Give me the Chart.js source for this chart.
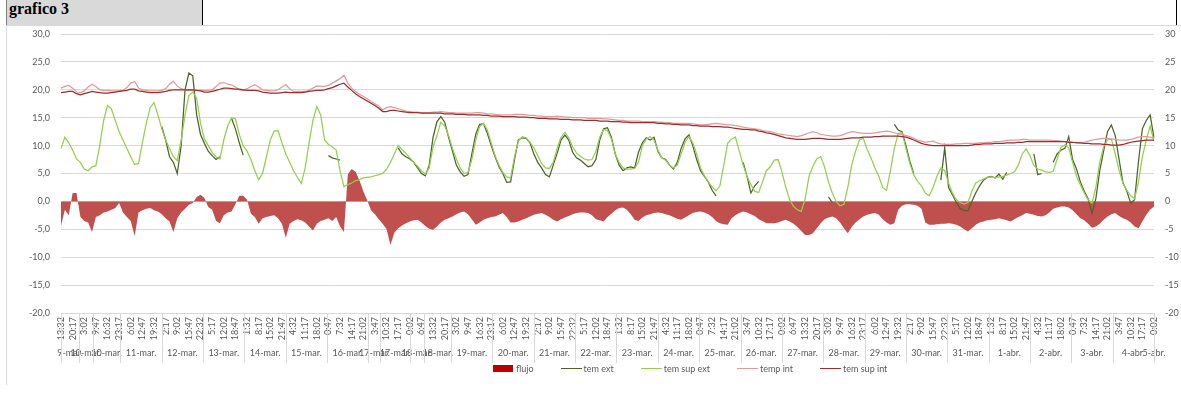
<!DOCTYPE html>
<html>
<head>
<meta charset="utf-8">
<title>grafico 3</title>
<script src="https://cdn.jsdelivr.net/npm/chart.js@4.4.1/dist/chart.umd.min.js"></script>
<style>
  html, body { margin: 0; padding: 0; background: #fff; }
  body { width: 1181px; height: 405px; position: relative; overflow: hidden; font-family: Lato, 'Liberation Sans', sans-serif; }
  #title {
    position: absolute; left: 6px; top: 0; width: 197px; height: 25px; box-sizing: border-box;
    background: #d9d9d9; border-left: 1px solid #7f7f7f; border-right: 1px solid #000;
    font: bold 16px 'Liberation Serif', 'Times New Roman', serif; line-height: 17px; padding-left: 2px;
  }
  #edge { position: absolute; left: 1176px; top: 0; width: 1px; height: 25px; background: #000; }
  #frame {
    position: absolute; left: 6px; top: 25px; width: 1175px; height: 360px; box-sizing: border-box;
    border-top: 1px solid #d9d9d9; border-left: 1px solid #d9d9d9;
  }
  #chart { position: absolute; left: 7px; top: 26px; }
  #legend { position: absolute; left: 493px; top: 363px; display: flex; align-items: center; font-size: 9px; color: #595959; white-space: nowrap; }
  #legend .item { display: flex; align-items: center; margin-right: 27px; }
  #legend .box { width: 20px; height: 7px; margin-right: 3px; }
  #legend .line { width: 21px; height: 0; margin-right: 2px; border-top: 1.5px solid; }
</style>
</head>
<body>
<div id="title">grafico 3</div>
<div id="edge"></div>
<div id="frame"></div>
<canvas id="chart" width="1174" height="359"></canvas>
<div id="legend"></div>
<script>
// readings every 2 h 15 min, first one on 9-mar 13:32
const startMinute = 13 * 60 + 32;
const stepMinutes = 135;

const flujo = [
  -4.4, -1.5, -2.5, 1.5, 1.5, -2.8, -3.5, -3.8, -5.5, -2.8,
  -2.5, -2.0, -1.8, -1.5, -1.2, -0.3, -2.0, -2.8, -3.5, -6.2,
  -2.0, -1.6, -1.3, -1.2, -1.6, -1.8, -2.3, -3.0, -3.6, -5.5,
  -3.0, -2.0, -1.3, -0.6, -0.3, 0.8, 1.2, 0.6, -1.0, -1.5,
  -3.5, -3.9, -2.5, -2.0, -1.8, -0.5, 1.0, 1.0, 0.3, -2.2,
  -2.8, -4.0, -3.0, -2.8, -2.6, -2.5, -3.0, -4.0, -6.5, -4.0,
  -3.5, -3.2, -3.4, -3.8, -4.5, -5.2, -4.0, -3.5, -3.3, -3.0,
  -3.5, -2.8, -4.5, -5.5, 4.8, 5.8, 5.3, 3.8, 1.8, 0.2,
  -1.6, -2.3, -3.2, -4.0, -5.0, -7.8, -5.6, -4.8, -4.3, -3.9,
  -3.6, -3.4, -3.3, -3.8, -4.4, -4.9, -5.1, -4.5, -3.8, -3.3,
  -3.0, -2.7, -2.3, -2.0, -1.8, -2.3, -3.2, -4.2, -3.8, -3.3,
  -3.0, -2.8, -2.7, -2.4, -2.1, -2.8, -3.8, -3.8, -3.6, -3.3,
  -3.0, -2.7, -2.4, -2.2, -2.1, -2.4, -2.8, -3.3, -3.6, -3.2,
  -2.9, -2.6, -2.3, -2.1, -2.0, -2.0, -2.1, -2.5, -3.2, -3.4,
  -3.6, -2.8, -2.2, -1.6, -1.2, -1.1, -1.5, -2.3, -3.3, -3.5,
  -2.9, -2.5, -2.3, -2.1, -2.0, -2.1, -2.3, -2.5, -2.8, -3.1,
  -3.3, -2.9, -2.5, -2.1, -1.9, -1.8, -2.0, -2.3, -2.8, -3.5,
  -3.9, -4.1, -4.2, -3.0, -2.5, -2.1, -1.8, -2.0, -2.3, -2.6,
  -3.2, -3.5, -3.9, -3.9, -3.9, -3.8, -3.5, -3.3, -3.6, -4.0,
  -4.6, -5.3, -6.0, -6.0, -5.7, -4.8, -3.9, -3.2, -2.9, -2.7,
  -3.0, -3.8, -4.8, -5.7, -4.6, -3.8, -3.2, -2.7, -2.4, -2.2,
  -2.1, -2.4, -3.2, -3.8, -4.2, -3.9, -1.5, -0.8, -0.5, -0.5,
  -0.6, -0.8, -1.3, -3.8, -4.2, -4.2, -4.1, -4.0, -4.0, -3.9,
  -4.0, -4.2, -4.5, -5.0, -5.4, -4.8, -4.2, -3.8, -3.6, -3.4,
  -3.3, -3.2, -3.0, -3.2, -3.4, -3.6, -3.2, -2.8, -2.5, -2.1,
  -2.2, -2.4, -2.6, -2.7, -2.5, -2.0, -1.3, -1.1, -0.9, -0.9,
  -1.1, -1.6, -2.3, -3.0, -3.4, -4.0, -4.7, -4.5, -4.0, -3.3,
  -2.7, -2.3, -2.1, -2.6, -3.0, -3.3, -3.8, -4.5, -4.8, -3.6,
  -2.4, -1.5, -0.9
];

// sensor outside: gaps where it did not log
const temExt = [
  null, null, null, null, null, null, null, null, null, null,
  null, null, null, null, null, null, null, null, null, null,
  null, null, null, null, null, null, 13.4, 11.0, 8.0, 7.0,
  5.0, 10.0, 20.0, 23.0, 22.5, 15.5, 12.0, 10.4, 9.0, 8.2,
  7.5, 8.0, null, null, 14.9, 13.0, 10.5, 8.3, null, null,
  null, null, null, null, null, null, null, null, null, null,
  null, null, null, null, null, null, null, null, null, 8.2,
  7.8, 7.6, 7.4, null, null, null, null, null, null, null,
  null, null, null, null, null, null, null, 9.6, 8.5, 8.0,
  7.6, 7.0, 6.0, 5.0, 4.6, 6.5, 11.5, 14.3, 15.2, 14.2,
  11.5, 9.0, 6.5, 5.3, 4.5, 4.8, 8.5, 12.0, 13.8, 13.9,
  12.2, 10.0, 8.0, 6.2, 5.0, 3.4, 3.5, 7.5, 11.0, 11.4,
  11.3, 10.5, 8.5, 7.0, 6.0, 4.8, 4.4, 6.5, 8.6, 11.0,
  11.9, 11.0, 8.8, 7.8, 7.4, 6.8, 6.2, 6.4, 7.5, 11.0,
  13.0, 13.2, 11.5, 8.5, 6.5, 5.5, 6.0, 6.2, 6.0, 8.8,
  10.5, 11.4, 11.0, 11.5, 9.0, 7.8, 7.5, 6.5, 5.8, 7.0,
  9.5, 11.2, 11.9, 10.0, 7.5, 5.5, 4.5, 3.5, 2.0, 1.0,
  null, null, null, null, null, null, 7.0, 4.5, 1.5, 2.8,
  3.6, null, null, null, null, null, null, null, null, null,
  null, null, null, null, null, null, null, null, 0.8, -0.2,
  null, null, null, null, null, null, null, null, null, null,
  null, null, null, null, null, 13.8, 12.8, 12.5, 10.0, 7.2,
  5.0, null, null, null, null, null, null, 3.8, 9.6, 2.5,
  1.2, -0.2, -1.3, -1.6, -1.7, 0.0, 1.5, 2.8, 3.8, 4.3,
  4.5, 4.2, 4.9, 4.0, 5.2, null, null, null, null, null,
  null, 8.5, 4.8, 5.0, null, null, 7.0, 8.5, 9.2, 9.5,
  11.6, 7.5, 5.8, 3.5, 1.8, 0.5, -2.1, 0.5, 5.5, 9.0,
  12.5, 13.7, 11.8, 7.5, 3.3, 1.8, -0.3, 0.3, 7.2, 13.0,
  14.5, 15.5, 11.4
];

const temSupExt = [
  9.5, 11.5, 10.5, 9.2, 7.6, 7.0, 5.8, 5.5, 6.2, 6.4,
  10.0, 14.5, 17.2, 16.6, 14.5, 12.5, 11.0, 9.5, 8.0, 6.6,
  6.8, 10.5, 14.0, 16.8, 17.7, 15.5, 13.0, 11.0, 9.5, 8.0,
  7.3, 11.0, 15.5, 19.0, 19.6, 18.5, 14.0, 11.2, 10.0, 8.8,
  8.0, 7.6, 11.0, 13.5, 15.0, 14.8, 12.0, 10.0, 9.0, 7.5,
  5.5, 3.9, 5.0, 8.0, 11.0, 12.6, 12.7, 10.5, 8.5, 7.0,
  5.5, 4.3, 3.2, 6.0, 10.5, 14.5, 17.0, 15.5, 11.0, 10.2,
  9.8, 9.2, 5.5, 2.6, 3.0, 3.3, 3.7, 3.9, 4.2, 4.3,
  4.4, 4.6, 4.8, 5.0, 5.8, 7.0, 8.5, 10.0, 9.3, 8.6,
  7.8, 7.0, 6.3, 5.5, 4.9, 6.0, 9.8, 11.8, 14.2, 13.5,
  11.8, 9.5, 7.6, 6.0, 5.0, 5.2, 7.5, 11.0, 13.4, 14.0,
  12.8, 10.5, 8.2, 6.5, 5.2, 4.4, 4.2, 8.0, 10.8, 11.6,
  11.4, 10.6, 9.6, 8.2, 6.8, 6.0, 5.9, 7.0, 9.5, 11.5,
  12.4, 11.4, 9.8, 8.7, 8.1, 7.6, 7.4, 7.5, 9.0, 11.5,
  12.9, 12.7, 11.2, 8.5, 7.0, 6.0, 5.8, 5.8, 5.9, 7.0,
  10.0, 11.2, 11.6, 11.0, 9.2, 7.8, 7.4, 6.5, 6.0, 6.5,
  8.5, 10.6, 11.6, 10.5, 8.5, 6.0, 4.6, 3.5, 2.6, 1.9,
  2.8, 6.5, 10.4, 11.2, 11.5, 9.0, 6.5, 4.5, 3.0, 1.8,
  1.6, 3.5, 5.5, 6.2, 7.4, 7.5, 5.3, 2.5, 0.3, -0.9,
  -1.5, -1.8, 0.5, 4.5, 6.3, 7.6, 8.0, 6.2, 3.5, 1.5,
  0.0, -0.8, -0.5, 2.5, 6.5, 9.0, 11.0, 11.3, 9.3, 7.8,
  6.0, 4.5, 2.5, 2.0, 5.5, 9.5, 12.2, 12.3, 9.5, 6.8,
  4.8, 3.6, 2.8, 1.5, 1.0, 2.5, 4.5, 6.0, 5.5, 3.3,
  1.5, 0.3, -0.2, -0.5, -0.2, 1.8, 3.3, 3.7, 4.0, 4.3,
  4.4, 4.2, 4.4, 4.5, 4.7, 5.0, 5.3, 6.5, 8.5, 9.4,
  8.2, 6.4, 5.8, 5.6, 5.3, 5.2, 5.4, 7.5, 9.7, 10.1,
  9.6, 7.0, 4.5, 3.0, 1.5, 0.3, -0.3, 2.5, 7.0, 9.8,
  11.0, 11.2, 8.5, 5.5, 3.2, 2.0, 1.0, 0.5, 3.5, 8.0,
  11.0, 13.5, 10.8
];

const tempInt = [
  20.3, 20.6, 20.8, 20.3, 19.6, 19.5, 19.8, 20.5, 21.0, 20.6,
  20.0, 19.9, 19.9, 19.8, 19.8, 19.8, 19.9, 20.4, 21.2, 21.5,
  20.3, 20.0, 19.9, 19.8, 19.8, 19.8, 19.9, 20.2, 21.0, 21.5,
  20.7, 20.2, 20.0, 19.9, 19.9, 19.9, 19.9, 19.9, 19.9, 20.0,
  20.6, 21.2, 21.3, 21.0, 20.9, 20.5, 20.0, 19.9, 20.2, 20.6,
  20.9, 20.5, 20.0, 19.9, 19.8, 19.8, 20.0, 20.5, 20.9, 20.2,
  19.7, 19.7, 19.7, 19.7, 19.9, 20.3, 20.7, 20.6, 20.6, 20.8,
  21.2, 21.6, 22.0, 22.6, 21.2, 20.3, 19.7, 19.2, 18.8, 18.4,
  17.9, 17.5, 17.1, 16.4, 16.8, 17.0, 16.8, 16.6, 16.4, 16.2,
  16.1, 16.0, 16.0, 15.9, 15.9, 15.9, 16.0, 16.0, 16.1, 16.0,
  15.9, 15.9, 15.8, 15.8, 15.8, 15.8, 15.8, 15.9, 15.9, 15.8,
  15.7, 15.7, 15.6, 15.5, 15.5, 15.5, 15.5, 15.6, 15.6, 15.6,
  15.5, 15.4, 15.4, 15.3, 15.3, 15.2, 15.2, 15.2, 15.3, 15.2,
  15.1, 15.1, 15.0, 15.0, 15.0, 15.0, 14.9, 14.9, 14.9, 14.9,
  14.8, 14.8, 14.7, 14.6, 14.5, 14.5, 14.4, 14.4, 14.4, 14.4,
  14.3, 14.3, 14.3, 14.3, 14.2, 14.2, 14.1, 14.1, 14.0, 14.0,
  14.0, 14.0, 14.0, 13.9, 13.8, 13.7, 13.7, 13.8, 13.9, 14.0,
  13.9, 13.8, 13.7, 13.7, 13.6, 13.5, 13.3, 13.2, 13.1, 13.0,
  12.9, 12.7, 12.6, 12.5, 12.3, 12.1, 12.0, 11.9, 11.8, 11.7,
  11.6, 11.8, 12.0, 12.3, 12.5, 12.3, 12.0, 11.9, 11.8, 11.7,
  11.7, 11.8, 12.0, 12.3, 12.5, 12.4, 12.3, 12.2, 12.2, 12.2,
  12.3, 12.4, 12.5, 12.6, 12.5, 12.3, 12.1, 12.0, 11.8, 11.6,
  11.3, 11.0, 10.8, 10.6, 10.7, 10.8, 10.5, 10.3, 10.2, 10.2,
  10.2, 10.3, 10.3, 10.4, 10.4, 10.4, 10.4, 10.5, 10.5, 10.6,
  10.6, 10.7, 10.7, 10.8, 10.9, 11.0, 11.0, 11.0, 11.1, 11.1,
  11.0, 11.0, 11.0, 11.0, 11.0, 11.0, 10.9, 10.9, 10.8, 10.7,
  10.7, 10.6, 10.6, 10.5, 10.6, 10.8, 11.0, 11.1, 11.2, 11.3,
  11.3, 11.2, 11.1, 11.0, 11.0, 11.0, 11.1, 11.3, 11.5, 11.6,
  11.6, 11.5, 11.3
];

const temSupInt = [
  19.5, 19.6, 19.7, 19.7, 19.3, 19.1, 19.3, 19.5, 19.7, 19.6,
  19.5, 19.4, 19.4, 19.5, 19.6, 19.7, 19.8, 19.9, 20.1, 20.1,
  19.8, 19.7, 19.6, 19.5, 19.5, 19.5, 19.6, 19.7, 19.9, 20.0,
  20.0, 20.0, 20.0, 20.0, 20.0, 19.9, 19.8, 19.6, 19.6, 19.7,
  19.9, 20.1, 20.3, 20.3, 20.2, 20.1, 20.1, 20.0, 19.9, 19.9,
  19.9, 19.8, 19.6, 19.5, 19.4, 19.4, 19.4, 19.5, 19.6, 19.5,
  19.5, 19.5, 19.5, 19.6, 19.7, 19.8, 19.9, 19.9, 20.0, 20.2,
  20.4, 20.7, 21.0, 21.2, 20.5, 19.9, 19.3, 18.8, 18.4, 18.0,
  17.6, 17.2, 16.7, 16.1, 16.1, 16.3, 16.3, 16.2, 16.1, 16.0,
  15.9, 15.9, 15.9, 15.8, 15.8, 15.8, 15.8, 15.8, 15.8, 15.7,
  15.7, 15.7, 15.6, 15.6, 15.6, 15.5, 15.5, 15.5, 15.5, 15.4,
  15.4, 15.3, 15.3, 15.3, 15.2, 15.2, 15.2, 15.2, 15.1, 15.1,
  15.1, 15.0, 15.0, 14.9, 14.9, 14.9, 14.8, 14.8, 14.8, 14.7,
  14.7, 14.7, 14.6, 14.6, 14.6, 14.5, 14.5, 14.5, 14.5, 14.4,
  14.4, 14.4, 14.3, 14.3, 14.3, 14.2, 14.2, 14.1, 14.1, 14.1,
  14.1, 14.1, 14.1, 14.1, 14.0, 14.0, 13.9, 13.9, 13.8, 13.8,
  13.7, 13.7, 13.7, 13.6, 13.6, 13.5, 13.5, 13.5, 13.4, 13.4,
  13.4, 13.3, 13.3, 13.2, 13.1, 13.0, 12.9, 12.9, 12.8, 12.8,
  12.6, 12.5, 12.3, 12.2, 12.0, 11.8, 11.6, 11.4, 11.3, 11.2,
  11.1, 11.1, 11.1, 11.2, 11.3, 11.3, 11.3, 11.2, 11.1, 11.1,
  11.1, 11.1, 11.2, 11.3, 11.4, 11.4, 11.4, 11.5, 11.5, 11.5,
  11.6, 11.6, 11.7, 11.7, 11.7, 11.7, 11.7, 11.6, 11.5, 11.3,
  11.0, 10.7, 10.4, 10.2, 10.1, 10.0, 10.0, 10.0, 10.0, 10.0,
  10.0, 10.0, 10.0, 10.0, 10.0, 10.1, 10.2, 10.2, 10.3, 10.3,
  10.3, 10.4, 10.4, 10.4, 10.5, 10.5, 10.5, 10.6, 10.6, 10.7,
  10.7, 10.7, 10.7, 10.7, 10.7, 10.7, 10.7, 10.7, 10.7, 10.7,
  10.6, 10.6, 10.5, 10.5, 10.4, 10.4, 10.3, 10.3, 10.3, 10.2,
  10.2, 10.1, 10.1, 10.1, 10.2, 10.4, 10.6, 10.7, 10.8, 10.9,
  11.0, 11.0, 11.0
];

// day groups of the category axis (some days come split in two)
const dayLabels = [
  '9-mar.', '10-mar.', '10-mar.', '11-mar.', '12-mar.', '13-mar.', '14-mar.', '15-mar.', '16-mar.',
  '17-mar.', '17-mar.', '18-mar.', '18-mar.', '19-mar.', '20-mar.', '21-mar.', '22-mar.', '23-mar.',
  '24-mar.', '25-mar.', '26-mar.', '27-mar.', '28-mar.', '29-mar.', '30-mar.', '31-mar.',
  '1-abr.', '2-abr.', '3-abr.', '4-abr.', '5-abr.'
];
const dayStarts = [
  '03-09 13:32', '03-10 00:00', '03-10 08:00', '03-11 00:00', '03-12 00:00', '03-13 00:00', '03-14 00:00',
  '03-15 00:00', '03-16 00:00', '03-17 00:00', '03-17 07:00', '03-18 00:00', '03-18 08:30', '03-19 00:00',
  '03-20 00:00', '03-21 00:00', '03-22 00:00', '03-23 00:00', '03-24 00:00', '03-25 00:00', '03-26 00:00',
  '03-27 00:00', '03-28 00:00', '03-29 00:00', '03-30 00:00', '03-31 00:00', '04-01 00:00', '04-02 00:00',
  '04-03 00:00', '04-04 00:00', '04-05 00:00'
];

const series = [flujo, temExt, temSupExt, tempInt, temSupInt];
if (series.some(s => s.length !== flujo.length)) throw new Error('series length mismatch');

const timeLabels = flujo.map((_, i) => {
  const m = (startMinute + i * stepMinutes) % 1440;
  return Math.floor(m / 60) + ':' + String(m % 60).padStart(2, '0');
});

// 'MM-DD HH:MM' -> position on the sample index axis
function toIndex(stamp) {
  const [md, hm] = stamp.split(' ');
  const [mo, d] = md.split('-').map(Number);
  const [h, m] = hm.split(':').map(Number);
  const day = mo === 3 ? d - 9 : d + 31 - 9;
  return (day * 1440 + h * 60 + m - startMinute) / stepMinutes;
}
const lastIndex = flujo.length - 1;
const dayBounds = dayStarts.map(toIndex).concat(lastIndex);
const dayCenters = dayLabels.map((_, i) => (dayBounds[i] + dayBounds[i + 1]) / 2);

const axisFont = { family: 'Lato', size: 9 };
const axisColor = '#595959';

const daySeparators = {
  id: 'daySeparators',
  afterDraw(chart) {
    const { ctx, chartArea, scales } = chart;
    const x2 = scales.x2;
    ctx.save();
    ctx.strokeStyle = '#d9d9d9';
    ctx.lineWidth = 1;
    dayBounds.forEach(b => {
      const px = Math.round(x2.getPixelForValue(b)) + 0.5;
      ctx.beginPath();
      ctx.moveTo(px, chartArea.bottom);
      ctx.lineTo(px, x2.bottom);
      ctx.stroke();
    });
    ctx.restore();
  }
};

const chart = new Chart(document.getElementById('chart'), {
  type: 'line',
  data: {
    labels: timeLabels,
    datasets: [
      { label: 'flujo', data: flujo, fill: 'origin', backgroundColor: '#c0504d', borderWidth: 0, order: 5, legendColor: '#c00000' },
      { label: 'tem ext', data: temExt, borderColor: '#4f6228', order: 4 },
      { label: 'tem sup ext', data: temSupExt, borderColor: '#92d050', order: 3 },
      { label: 'temp int', data: tempInt, borderColor: '#e39a9a', order: 2 },
      { label: 'tem sup int', data: temSupInt, borderColor: '#9b2d2d', order: 1 }
    ]
  },
  options: {
    responsive: false,
    animation: false,
    events: [],
    layout: { padding: { top: 8, bottom: 22 } },
    elements: {
      point: { radius: 0 },
      line: { borderWidth: 1.25, tension: 0 }
    },
    plugins: {
      legend: { display: false },
      tooltip: { enabled: false }
    },
    scales: {
      x: {
        type: 'category',
        grid: { display: false, drawTicks: false },
        border: { display: false },
        ticks: {
          autoSkip: false, minRotation: 90, maxRotation: 90, padding: 4,
          font: axisFont, color: axisColor,
          callback(value, index) { return index % 3 === 0 ? this.getLabelForValue(value) : ''; }
        },
        afterFit(scale) { scale.height = 34; }
      },
      x2: {
        type: 'linear', position: 'bottom', min: 0, max: lastIndex,
        grid: { display: false, drawTicks: false },
        border: { display: false },
        afterBuildTicks(scale) { scale.ticks = dayCenters.map(v => ({ value: v })); },
        ticks: {
          autoSkip: false, maxRotation: 0, padding: 1,
          font: axisFont, color: axisColor,
          callback(value, index) { return dayLabels[index]; }
        },
        afterFit(scale) { scale.height = 16; }
      },
      // label gap comes from an invisible tick mark, so it does not pad the chart top
      y: {
        min: -20, max: 30,
        grid: { color: '#d9d9d9', drawTicks: true, tickLength: 11, tickColor: 'rgba(0,0,0,0)' },
        border: { display: false },
        ticks: {
          stepSize: 5, padding: 0, font: axisFont, color: axisColor,
          callback: v => v.toFixed(1).replace('.', ',')
        },
        afterFit(scale) { scale.width = 54; }
      },
      y2: {
        position: 'right', min: -20, max: 30,
        grid: { drawOnChartArea: false, drawTicks: true, tickLength: 11, tickColor: 'rgba(0,0,0,0)' },
        border: { display: false },
        ticks: { stepSize: 5, padding: 0, font: axisFont, color: axisColor },
        afterFit(scale) { scale.width = 27; }
      }
    }
  },
  plugins: [daySeparators]
});

// legend under the axis, built from the datasets
const legend = document.getElementById('legend');
chart.data.datasets.forEach(ds => {
  const item = document.createElement('span');
  item.className = 'item';
  const mark = document.createElement('span');
  if (ds.fill) {
    mark.className = 'box';
    mark.style.background = ds.legendColor;
  } else {
    mark.className = 'line';
    mark.style.borderTopColor = ds.borderColor;
  }
  item.appendChild(mark);
  item.appendChild(document.createTextNode(ds.label));
  legend.appendChild(item);
});
</script>
</body>
</html>
